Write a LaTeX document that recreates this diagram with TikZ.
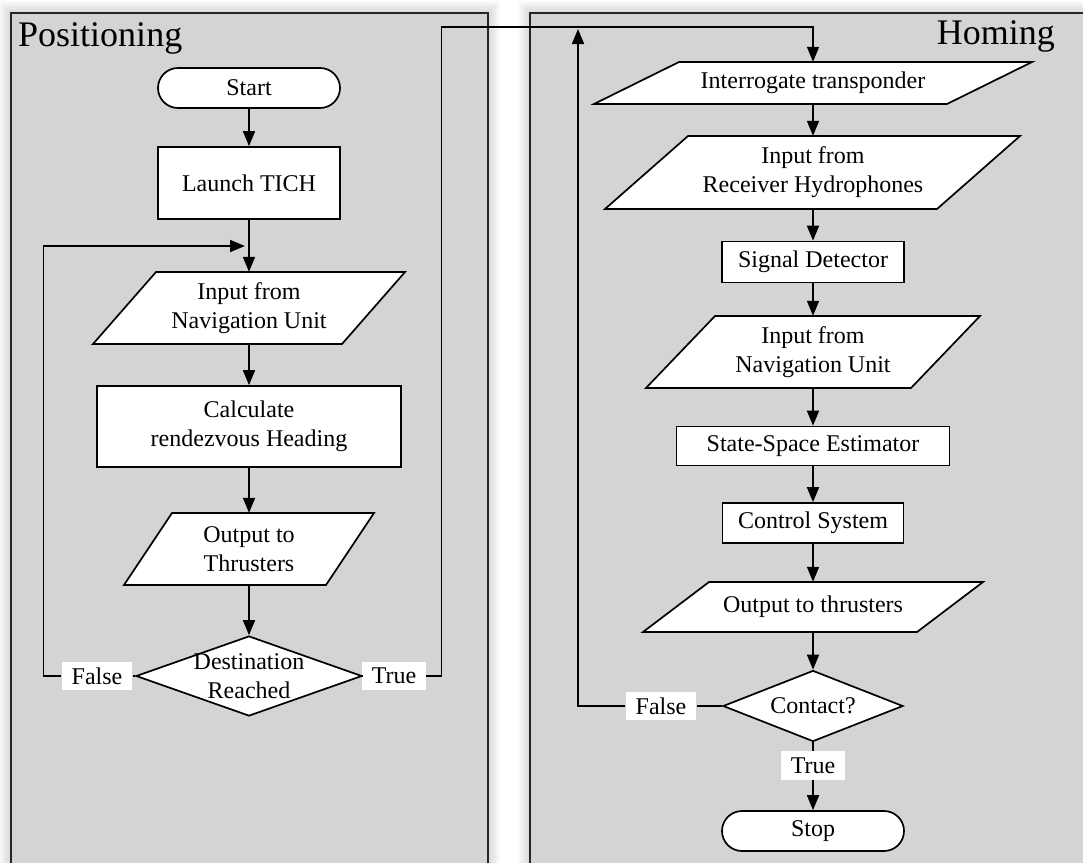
\documentclass[tikz,border=0pt]{standalone}
\usepackage{fontspec}
\setmainfont{Liberation Serif}
\usetikzlibrary{arrows.meta,shapes.geometric,shapes.misc}
\definecolor{panelgray}{RGB}{212,212,212}
\tikzset{
  box/.style={draw, fill=white, line width=1.7pt, inner sep=0pt, align=center},
  term/.style={box, rounded rectangle},
  decision/.style={box, diamond},
  iotext/.style={inner sep=0pt, align=center},
  iobox/.style={draw, fill=white, line width=1.7pt},
  flag/.style={fill=white, inner xsep=10pt, inner ysep=0pt, minimum height=28pt},
  arr/.style={line width=1.7pt, -{Triangle[length=15pt,width=12pt]}},
  link/.style={line width=1.7pt},
  panel/.style={fill=panelgray, draw=black!85, line width=2.2pt},
  heading/.style={inner sep=0pt, font=\fontsize{36}{40}\selectfont}
}

\begin{document}
\begin{tikzpicture}[x=1pt, y=-1pt, font=\fontsize{24}{29}\selectfont]
    \useasboundingbox (0,0) rectangle (1083,862);
    \fill[white] (0,0) rectangle (1083,862);

    % soft shadow round the two panels
    \foreach \d in {2,4,...,12} {
        \fill[black, opacity=0.025] ({11-\d},{13-\d}) rectangle ({488+\d},880);
        \fill[black, opacity=0.025] ({530-\d},{13-\d}) rectangle (1100,880);
    }
    \draw[panel] (11,13) rectangle (488,880);
    \draw[panel] (530,13) rectangle (1100,880);

    \node[heading, anchor=base west] (posT) at (18,46) {Positioning};
    \node[heading, anchor=base east] (homT) at (1055,44) {Homing};

    % Positioning
    \node[term, minimum width=182pt, minimum height=40pt] (start) at (249,88) {Start};
    \node[box, minimum width=182pt, minimum height=72pt] (launch) at (249,183) {Launch TICH};

    \draw[iobox] (156,272) -- (405,272) -- (342,344) -- (93,344) -- cycle;
    \node[iotext, minimum width=249pt, minimum height=72pt] (navL) at (249,308) {Input from\\Navigation Unit};

    \node[box, minimum width=304pt, minimum height=81pt] (calc) at (249,426.5) {Calculate\\rendezvous Heading};

    \draw[iobox] (172,513) -- (374,513) -- (326,585) -- (124,585) -- cycle;
    \node[iotext, minimum width=202pt, minimum height=72pt] (outL) at (249,549) {Output to\\Thrusters};

    \node[decision, minimum width=226pt, minimum height=80pt,
          label={[align=center, inner sep=0pt]center:Destination\\Reached}] (dest) at (249,676) {};
    \node[flag] (falseL) at (97,676) {False};
    \node[flag] (trueL) at (394,676) {True};

    \draw[arr] (start) -- (launch);
    \draw[arr] (launch) -- (navL);
    \draw[arr] (navL) -- (calc);
    \draw[arr] (calc) -- (outL);
    \draw[arr] (outL) -- (dest);
    \draw[link] (dest) -- (falseL);
    \draw[link] (dest) -- (trueL);

    \coordinate (joinL) at (245,246);
    \draw[arr] (falseL.west) -- ++(-18,0) |- (joinL);

    % Homing
    \draw[iobox] (679,62) -- (1032,62) -- (947,104) -- (594,104) -- cycle;
    \node[iotext, minimum width=353pt, minimum height=42pt] (intg) at (813,83) {Interrogate transponder};

    \draw[iobox] (688,136) -- (1020,136) -- (937,209) -- (605,209) -- cycle;
    \node[iotext, minimum width=332pt, minimum height=73pt] (recv) at (813,172.5) {Input from\\Receiver Hydrophones};

    \node[box, minimum width=182pt, minimum height=41pt] (sig) at (813,262) {Signal Detector};

    \draw[iobox] (715,316) -- (980,316) -- (911,388) -- (646,388) -- cycle;
    \node[iotext, minimum width=265pt, minimum height=72pt] (navR) at (813,352) {Input from\\Navigation Unit};

    \node[box, minimum width=273pt, minimum height=39pt] (sse) at (813,446) {State-Space Estimator};
    \node[box, minimum width=181pt, minimum height=40pt] (ctrl) at (813,523) {Control System};

    \draw[iobox] (709,582) -- (983,582) -- (917,632) -- (643,632) -- cycle;
    \node[iotext, minimum width=274pt, minimum height=50pt] (outR) at (813,607) {Output to thrusters};

    \node[decision, minimum width=180pt, minimum height=71pt,
          label={[inner sep=0pt]center:Contact?}] (contact) at (813,706) {};
    \node[flag] (falseR) at (661,706) {False};
    \node[flag, minimum height=29pt] (trueR) at (813,765.5) {True};
    \node[term, minimum width=182pt, minimum height=40pt] (stop) at (813,831) {Stop};

    \draw[arr] (intg) -- (recv);
    \draw[arr] (recv) -- (sig);
    \draw[arr] (sig) -- (navR);
    \draw[arr] (navR) -- (sse);
    \draw[arr] (sse) -- (ctrl);
    \draw[arr] (ctrl) -- (outR);
    \draw[arr] (outR) -- (contact);
    \draw[link] (contact) -- (trueR);
    \draw[arr] (trueR) -- (stop);
    \draw[link] (contact) -- (falseR);

    \coordinate (loopR) at (578,29);
    \draw[arr] (falseR.west) -| (loopR);

    % True leaves the Positioning panel for the Homing one
    \coordinate (topR) at (813,27);
    \draw[arr] (trueL.east) -- ++(15,0) |- (topR) -- (intg);

\end{tikzpicture}
\end{document}
